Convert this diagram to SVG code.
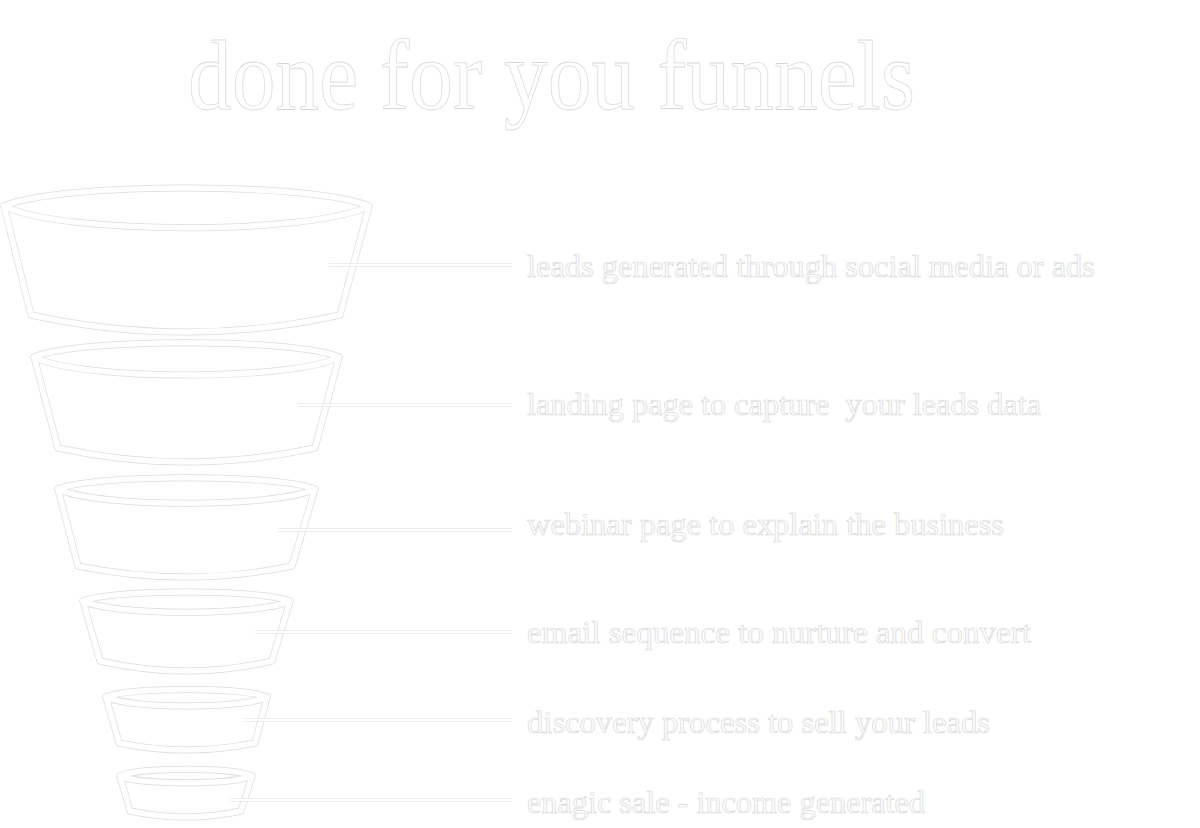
<svg xmlns="http://www.w3.org/2000/svg" width="1200" height="828" viewBox="0 0 1200 828">
<style>
.edge{fill:none;stroke:#dcdcdc;stroke-width:7;stroke-linejoin:round;stroke-linecap:round}
.core{fill:none;stroke:#ffffff;stroke-width:5.6;stroke-linejoin:round;stroke-linecap:round}
.cedge{fill:none;stroke:#dcdcdc;stroke-width:3}
.ccore{fill:none;stroke:#ffffff;stroke-width:1.8}
.t{font-family:"Liberation Serif","Times New Roman",serif;fill:#ffffff;stroke:#d9d9d9;stroke-width:0.7}
.title{font-size:100px;stroke-width:0.8}
.lbl{font-size:31px}
</style>
<rect width="1200" height="828" fill="#ffffff"/>
<text class="t title" x="188" y="109" textLength="727" lengthAdjust="spacingAndGlyphs">done for you funnels</text>

<g id="funnel1">
<path class="edge" d="M4,206 L31,315 Q186,349 340,315 L369,206"/>
<path class="edge" d="M4,206 C60,182 312,182 369,206 C312,235 60,235 4,206 Z"/>
<path class="core" d="M4,206 L31,315 Q186,349 340,315 L369,206"/>
<path class="core" d="M4,206 C60,182 312,182 369,206 C312,235 60,235 4,206 Z"/>
</g>
<g id="funnel2">
<path class="edge" d="M34,357 L58,448 Q186,476 315,448 L339,357"/>
<path class="edge" d="M34,357 C80,338 293,338 339,357 C293,381 80,381 34,357 Z"/>
<path class="core" d="M34,357 L58,448 Q186,476 315,448 L339,357"/>
<path class="core" d="M34,357 C80,338 293,338 339,357 C293,381 80,381 34,357 Z"/>
</g>
<g id="funnel3">
<path class="edge" d="M58,489 L78,566 Q186,588 292,566 L315,489"/>
<path class="edge" d="M58,489 C97,474 276,474 315,489 C276,508 97,508 58,489 Z"/>
<path class="core" d="M58,489 L78,566 Q186,588 292,566 L315,489"/>
<path class="core" d="M58,489 C97,474 276,474 315,489 C276,508 97,508 58,489 Z"/>
</g>
<g id="funnel4">
<path class="edge" d="M83,601 L100,661 Q186,681 272,661 L290,601"/>
<path class="edge" d="M83,601 C114,589 259,589 290,601 C259,616 114,616 83,601 Z"/>
<path class="core" d="M83,601 L100,661 Q186,681 272,661 L290,601"/>
<path class="core" d="M83,601 C114,589 259,589 290,601 C259,616 114,616 83,601 Z"/>
</g>
<g id="funnel5">
<path class="edge" d="M106,697 L119,743 Q186,757 255,743 L267,697"/>
<path class="edge" d="M106,697 C130,687 243,687 267,697 C243,709 130,709 106,697 Z"/>
<path class="core" d="M106,697 L119,743 Q186,757 255,743 L267,697"/>
<path class="core" d="M106,697 C130,687 243,687 267,697 C243,709 130,709 106,697 Z"/>
</g>
<g id="funnel6">
<path class="edge" d="M120,776 L130,811 Q186,823 241,811 L252,776"/>
<path class="edge" d="M120,776 C140,767 232,767 252,776 C232,785 140,785 120,776 Z"/>
<path class="core" d="M120,776 L130,811 Q186,823 241,811 L252,776"/>
<path class="core" d="M120,776 C140,767 232,767 252,776 C232,785 140,785 120,776 Z"/>
</g>

<g id="connectors">
<path class="cedge" d="M329,265 H512 M298,405 H512 M278,530 H512 M255,632 H512 M244,720 H512 M229,800 H512"/>
<path class="ccore" d="M329,265 H512 M298,405 H512 M278,530 H512 M255,632 H512 M244,720 H512 M229,800 H512"/>
</g>

<g id="label1"><text class="t lbl" x="527" y="277" textLength="568" lengthAdjust="spacingAndGlyphs">leads generated through social media or ads</text></g>
<g id="label2"><text class="t lbl" x="527" y="415" textLength="514" lengthAdjust="spacingAndGlyphs" xml:space="preserve">landing page to capture  your leads data</text></g>
<g id="label3"><text class="t lbl" x="527" y="535" textLength="477" lengthAdjust="spacingAndGlyphs">webinar page to explain the business</text></g>
<g id="label4"><text class="t lbl" x="527" y="643" textLength="504" lengthAdjust="spacingAndGlyphs">email sequence to nurture and convert</text></g>
<g id="label5"><text class="t lbl" x="527" y="733" textLength="463" lengthAdjust="spacingAndGlyphs">discovery process to sell your leads</text></g>
<g id="label6"><text class="t lbl" x="527" y="813" textLength="398" lengthAdjust="spacingAndGlyphs">enagic sale - income generated</text></g>
</svg>
